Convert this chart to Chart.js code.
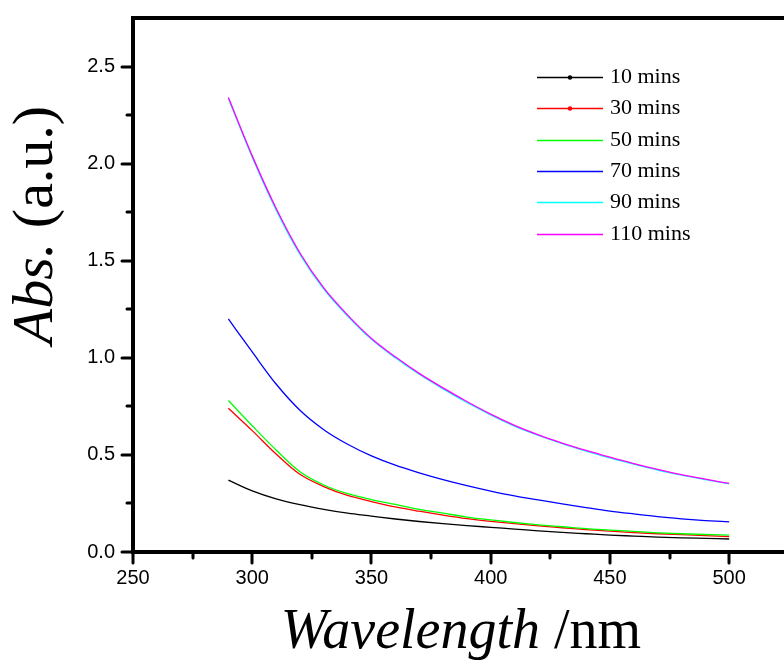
<!DOCTYPE html>
<html>
<head>
<meta charset="utf-8">
<title>Abs vs wavelength</title>
<script src="https://cdn.jsdelivr.net/npm/chart.js@4"></script>
<style>
  html, body { margin: 0; padding: 0; background: #fff; }
  #wrap { position: relative; width: 784px; height: 667px; }
</style>
</head>
<body>
<div id="wrap"><canvas id="absChart" width="784" height="667"></canvas></div>
<script>
// wavelengths (nm)
const wavelengths = [290, 300, 310, 320, 330, 340, 350, 360, 370, 380, 390, 400,
                     410, 420, 430, 440, 450, 460, 470, 480, 490, 500];

// absorbance
const abs10  = [0.370, 0.315, 0.274, 0.244, 0.220, 0.200, 0.185, 0.170, 0.157, 0.146, 0.136, 0.127,
                0.118, 0.109, 0.101, 0.094, 0.087, 0.082, 0.077, 0.073, 0.070, 0.067];
const abs30  = [0.740, 0.625, 0.505, 0.400, 0.337, 0.291, 0.260, 0.232, 0.210, 0.190, 0.172, 0.158,
                0.146, 0.135, 0.125, 0.115, 0.107, 0.100, 0.094, 0.089, 0.084, 0.079];
const abs50  = [0.780, 0.650, 0.525, 0.413, 0.345, 0.300, 0.270, 0.245, 0.220, 0.200, 0.180, 0.165,
                0.152, 0.140, 0.130, 0.120, 0.113, 0.106, 0.099, 0.094, 0.090, 0.087];
const abs70  = [1.200, 1.030, 0.865, 0.730, 0.630, 0.555, 0.495, 0.447, 0.408, 0.373, 0.342, 0.314,
                0.289, 0.268, 0.248, 0.229, 0.211, 0.196, 0.182, 0.171, 0.162, 0.155];
const abs90  = [2.335, 2.033, 1.762, 1.533, 1.354, 1.215, 1.095, 1.000, 0.915, 0.840, 0.770, 0.706,
                0.648, 0.600, 0.558, 0.520, 0.485, 0.452, 0.422, 0.396, 0.373, 0.351];
const abs110 = [2.340, 2.040, 1.770, 1.540, 1.360, 1.220, 1.100, 1.005, 0.920, 0.845, 0.775, 0.710,
                0.652, 0.603, 0.561, 0.523, 0.488, 0.455, 0.425, 0.398, 0.375, 0.353];

const seriesLabels = ['10 mins', '30 mins', '50 mins', '70 mins', '90 mins', '110 mins'];
const seriesColors = ['#000000', '#ff0000', '#00ff00', '#0000ff', '#00ffff', '#ff00ff'];
const seriesValues = [abs10, abs30, abs50, abs70, abs90, abs110];

// ticks
const xMajorTicks = [250, 300, 350, 400, 450, 500];
const xMinorTicks = [275, 325, 375, 425, 475];
const yMajorTicks = [0, 0.5, 1.0, 1.5, 2.0, 2.5];
const yMinorTicks = [0.25, 0.75, 1.25, 1.75, 2.25];

const serif = '"Liberation Serif", "Times New Roman", serif';
const sans = '"Liberation Sans", Arial, sans-serif';

// axes frame + tick marks (open on the right like the original)
const framePlugin = {
  id: 'frame',
  afterDraw(chart) {
    const { ctx, chartArea, scales } = chart;
    const { left, right, top, bottom } = chartArea;
    ctx.save();
    ctx.strokeStyle = '#000';
    ctx.lineWidth = 4;
    ctx.lineJoin = 'miter';
    ctx.beginPath();
    ctx.moveTo(right + 4, top);
    ctx.lineTo(left, top);
    ctx.lineTo(left, bottom);
    ctx.lineTo(right + 4, bottom);
    ctx.stroke();

    ctx.lineWidth = 3;
    ctx.lineCap = 'round';
    ctx.beginPath();
    xMajorTicks.concat(xMinorTicks).forEach(v => {
      const px = Math.round(scales.x.getPixelForValue(v));
      const len = xMajorTicks.includes(v) ? 11 : 6;
      ctx.moveTo(px, bottom);
      ctx.lineTo(px, bottom + len);
    });
    yMajorTicks.concat(yMinorTicks).forEach(v => {
      const py = Math.round(scales.y.getPixelForValue(v));
      const len = yMajorTicks.includes(v) ? 11 : 6;
      ctx.moveTo(left, py);
      ctx.lineTo(left - len, py);
    });
    ctx.stroke();
    ctx.restore();
  }
};

// legend inside the plot, top right
const legendPlugin = {
  id: 'insideLegend',
  afterDraw(chart) {
    const ctx = chart.ctx;
    const x0 = 537, x1 = 603, tx = 610;
    const y0 = 77, dy = 31.3;
    ctx.save();
    ctx.font = '22px ' + serif;
    ctx.textBaseline = 'middle';
    ctx.fillStyle = '#000';
    chart.data.datasets.forEach((ds, i) => {
      const y = Math.round(y0 + i * dy) + 0.5;
      ctx.strokeStyle = ds.borderColor;
      ctx.lineWidth = 1.5;
      ctx.beginPath();
      ctx.moveTo(x0, y);
      ctx.lineTo(x1, y);
      ctx.stroke();
      if (ds.legendDot) {
        ctx.fillStyle = ds.borderColor;
        ctx.beginPath();
        ctx.arc((x0 + x1) / 2, y, 2.2, 0, Math.PI * 2);
        ctx.fill();
      }
      ctx.fillStyle = '#000';
      ctx.fillText(ds.label, tx, y);
    });
    ctx.restore();
  }
};

// axis titles, mixed italic / upright
const titlePlugin = {
  id: 'axisTitles',
  afterDraw(chart) {
    const ctx = chart.ctx;
    ctx.save();
    ctx.fillStyle = '#000';
    ctx.textBaseline = 'alphabetic';

    // x title
    let itFont = 'italic 56px ' + serif;
    let upFont = '56px ' + serif;
    ctx.font = itFont;
    const w1 = ctx.measureText('Wavelength').width;
    ctx.font = upFont;
    const w2 = ctx.measureText(' /nm').width;
    let sx = 461 - (w1 + w2) / 2;
    ctx.font = itFont;
    ctx.fillText('Wavelength', sx, 648);
    ctx.font = upFont;
    ctx.fillText(' /nm', sx + w1, 648);

    // y title
    itFont = 'italic 58px ' + serif;
    upFont = '58px ' + serif;
    ctx.translate(52, 225);
    ctx.rotate(-Math.PI / 2);
    ctx.font = itFont;
    const w3 = ctx.measureText('Abs.').width;
    ctx.font = upFont;
    const w4 = ctx.measureText(' (a.u.)').width;
    sx = -(w3 + w4) / 2;
    ctx.font = itFont;
    ctx.fillText('Abs.', sx, 0);
    ctx.font = upFont;
    ctx.fillText(' (a.u.)', sx + w3, 0);
    ctx.restore();
  }
};

const datasets = seriesValues.map((vals, i) => ({
  label: seriesLabels[i],
  data: wavelengths.map((w, k) => ({ x: w, y: vals[k] })),
  borderColor: seriesColors[i],
  backgroundColor: seriesColors[i],
  borderWidth: 1.3,
  pointRadius: 0,
  fill: false,
  cubicInterpolationMode: 'monotone',
  order: seriesValues.length - i,
  legendDot: i < 2
}));

const ctx = document.getElementById('absChart');
new Chart(ctx, {
  type: 'line',
  data: { datasets: datasets },
  options: {
    responsive: false,
    animation: false,
    devicePixelRatio: 1,
    layout: { padding: { top: 18, left: 0, right: 0, bottom: 0 } },
    plugins: {
      legend: { display: false },
      tooltip: { enabled: false }
    },
    scales: {
      x: {
        type: 'linear',
        min: 250,
        max: 523,
        afterBuildTicks: scale => {
          scale.ticks = xMajorTicks.map(v => ({ value: v }));
        },
        afterFit: scale => { scale.height = 115; },
        ticks: {
          autoSkip: false,
          maxRotation: 0,
          padding: 14,
          color: '#000',
          font: { family: sans, size: 20 },
          callback: v => String(v)
        },
        grid: { display: true, drawOnChartArea: false, drawTicks: false, color: 'rgba(0,0,0,0)' },
        border: { display: false }
      },
      y: {
        min: 0,
        max: 2.75,
        afterBuildTicks: scale => {
          scale.ticks = yMajorTicks.map(v => ({ value: v }));
        },
        afterFit: scale => {
          scale.width = 133;
          // labels sit inside the range, so no extra room above/below
          scale.paddingTop = 0;
          scale.paddingBottom = 0;
        },
        ticks: {
          autoSkip: false,
          padding: 18,
          color: '#000',
          font: { family: sans, size: 20 },
          callback: v => Number(v).toFixed(1)
        },
        grid: { display: true, drawOnChartArea: false, drawTicks: false, color: 'rgba(0,0,0,0)' },
        border: { display: false }
      }
    }
  },
  plugins: [framePlugin, legendPlugin, titlePlugin]
});
</script>
</body>
</html>
